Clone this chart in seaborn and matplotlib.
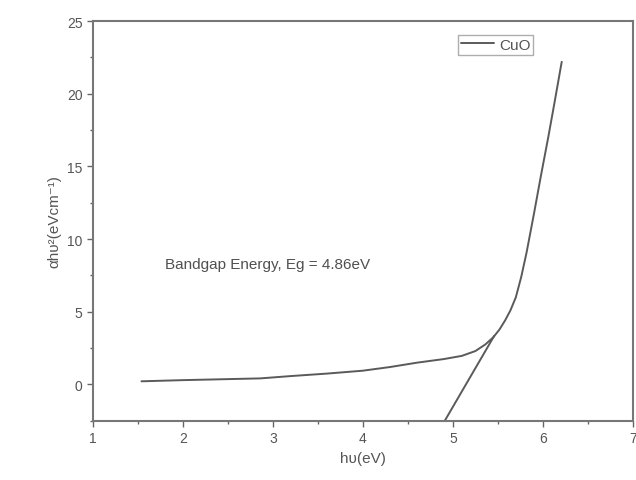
import numpy as np
import pandas as pd
import matplotlib
matplotlib.use("Agg")
import matplotlib.pyplot as plt
import matplotlib.ticker as mticker
import seaborn as sns

# Tauc plot values
hv = [1.54, 2.0, 2.5, 2.86, 3.2, 3.6, 4.0, 4.3, 4.6, 4.9, 5.1, 5.25, 5.36,
      5.45, 5.52, 5.58, 5.64, 5.70, 5.76, 5.82, 5.90, 5.98, 6.06, 6.13, 6.21]
ahv2 = [0.22, 0.3, 0.37, 0.42, 0.58, 0.75, 0.95, 1.2, 1.5, 1.75, 1.97, 2.3, 2.75,
        3.25, 3.8, 4.4, 5.1, 6.0, 7.4, 9.1, 11.7, 14.4, 17.0, 19.4, 22.2]

# linear extrapolation line (endpoints)
fit_x = [4.91, 5.46]
fit_y = [-2.5, 3.35]

df = pd.DataFrame({"hv": hv, "ahv2": ahv2, "sample": "CuO"})

sns.set_style("ticks")
plt.rcParams['font.family'] = ['Liberation Sans', 'DejaVu Sans']

fig = plt.figure(figsize=(6.36, 4.81), dpi=100)
ax = fig.add_axes([0.146, 0.123, 0.849, 0.831])

line_col = "#5a5a5a"
sns.lineplot(data=df, x="hv", y="ahv2", hue="sample", palette=[line_col],
             linewidth=1.4, ax=ax)
ax.plot(fit_x, fit_y, color=line_col, linewidth=1.4)

ax.set_xlim(1, 7)
ax.set_ylim(-2.5, 25)
ax.xaxis.set_major_locator(mticker.MultipleLocator(1))
ax.xaxis.set_minor_locator(mticker.MultipleLocator(0.5))
ax.yaxis.set_major_locator(mticker.MultipleLocator(5))
ax.yaxis.set_minor_locator(mticker.MultipleLocator(2.5))
ax.tick_params(which="major", length=4, width=1, color="#666666",
               labelsize=10, labelcolor="#555555", direction="out")
ax.tick_params(which="minor", length=2, width=1, color="#666666", direction="out")

for s in ax.spines.values():
    s.set_color("#777777")
    s.set_linewidth(1.5)

ax.set_xlabel("hυ(eV)", fontsize=11, color="#555555")
ax.set_ylabel("αhυ²(eVcm⁻¹)", fontsize=11, color="#555555")

ax.text(1.8, 8.3, "Bandgap Energy, Eg = 4.86eV", fontsize=11, color="#505050",
        va="center")

leg = ax.legend(loc="upper right", bbox_to_anchor=(0.83, 0.985), frameon=True,
                fancybox=False, fontsize=11, handlelength=2.2,
                borderpad=0.2, handletextpad=0.3)
leg.get_frame().set_edgecolor("#999999")
leg.get_frame().set_linewidth(1.0)
for t in leg.get_texts():
    t.set_color("#555555")

fig.savefig("out.png", dpi=100)
